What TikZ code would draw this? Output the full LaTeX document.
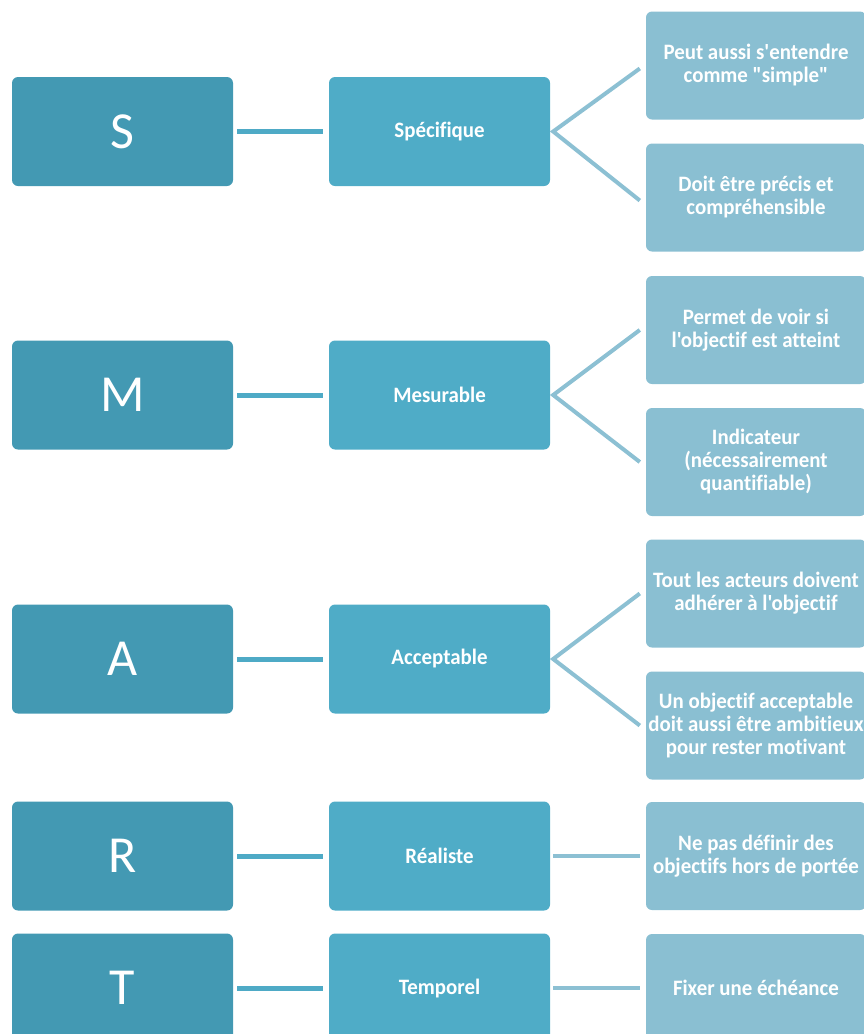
\documentclass[tikz,border=0pt]{standalone}
\usepackage{fontspec}
\setmainfont{Carlito}
\newfontfamily\lettrefont{Carlito}
\newfontfamily\boxfont[FakeStretch=0.95,Ligatures=NoCommon]{Carlito}
\definecolor{lettre}{HTML}{4399B3}
\definecolor{mot}{HTML}{4FACC7}
\definecolor{detail}{HTML}{8ABFD2}
\definecolor{lienA}{HTML}{4EAAC6}
\definecolor{lienB}{HTML}{8CC0D3}
\begin{document}
\begin{tikzpicture}[x=1pt,y=-1pt]
  \tikzset{ l/.style={rectangle,rounded corners=6pt,fill=lettre,text=white,minimum width=221pt,minimum height=109pt,inner sep=0pt,font=\lettrefont\fontsize{52}{56}\selectfont},
    w/.style={rectangle,rounded corners=6pt,fill=mot,text=white,minimum width=221pt,minimum height=109pt,inner sep=0pt,font=\boxfont\bfseries\fontsize{22}{23}\selectfont},
    d/.style={rectangle,rounded corners=6pt,fill=detail,text=white,minimum width=220pt,minimum height=108pt,inner sep=0pt,align=center,font=\boxfont\bfseries\fontsize{22}{23}\selectfont},
    lien/.style={draw=lienA,line width=5pt,shorten <=4pt,shorten >=6pt},
    fork/.style={draw=lienB,line width=4pt},
  }
  \useasboundingbox (0,0) rectangle (864,1034);

  \node[l] (S) at (122.5, 131.5) {S};
  \node[l] (M) at (122.5, 395) {M};
  \node[l] (A) at (122.5, 659) {A};
  \node[l] (R) at (122.5, 856) {R};
  \node[l] (T) at (122.5, 988) {T};

  \node[w] (spec) at (439.5, 131.5) {Spécifique};
  \node[w] (mesu) at (439.5, 395) {Mesurable};
  \node[w] (acce) at (439.5, 659) {Acceptable};
  \node[w] (real) at (439.5, 856) {Réaliste};
  \node[w] (temp) at (439.5, 988) {Temporel};

  \node[d] (s1) at (756, 65.5) {Peut aussi s'entendre\\comme "simple"};
  \node[d] (s2) at (756, 197.5) {Doit être précis et\\compréhensible};
  \node[d] (m1) at (756, 330) {Permet de voir si\\l'objectif est atteint};
  \node[d] (m2) at (756, 462) {Indicateur\\(nécessairement\\quantifiable)};
  \node[d] (a1) at (756, 593.5) {Tout les acteurs doivent\\adhérer à l'objectif};
  \node[d] (a2) at (756, 725.5) {Un objectif acceptable\\doit aussi être ambitieux\\pour rester motivant};
  \node[d] (r1) at (756, 856) {Ne pas définir des\\objectifs hors de portée};
  \node[d] (t1) at (756, 988) {Fixer une échéance};

  \draw[lien] (S) -- (spec);
  \draw[lien] (M) -- (mesu);
  \draw[lien] (A) -- (acce);
  \draw[lien] (R) -- (real);
  \draw[lien] (T) -- (temp);

  \draw[fork] ([xshift=-6pt,yshift=-3pt]s1.west) -- ([xshift=3pt]spec.east) -- ([xshift=-6pt,yshift=-3pt]s2.west);
  \draw[fork] ([xshift=-6pt]m1.west) -- ([xshift=3pt]mesu.east) -- ([xshift=-6pt]m2.west);
  \draw[fork] ([xshift=-6pt]a1.west) -- ([xshift=3pt]acce.east) -- ([xshift=-6pt]a2.west);
  \draw[fork] ([xshift=3pt]real.east) -- ([xshift=-6pt]r1.west);
  \draw[fork] ([xshift=3pt]temp.east) -- ([xshift=-6pt]t1.west);
\end{tikzpicture}
\end{document}
